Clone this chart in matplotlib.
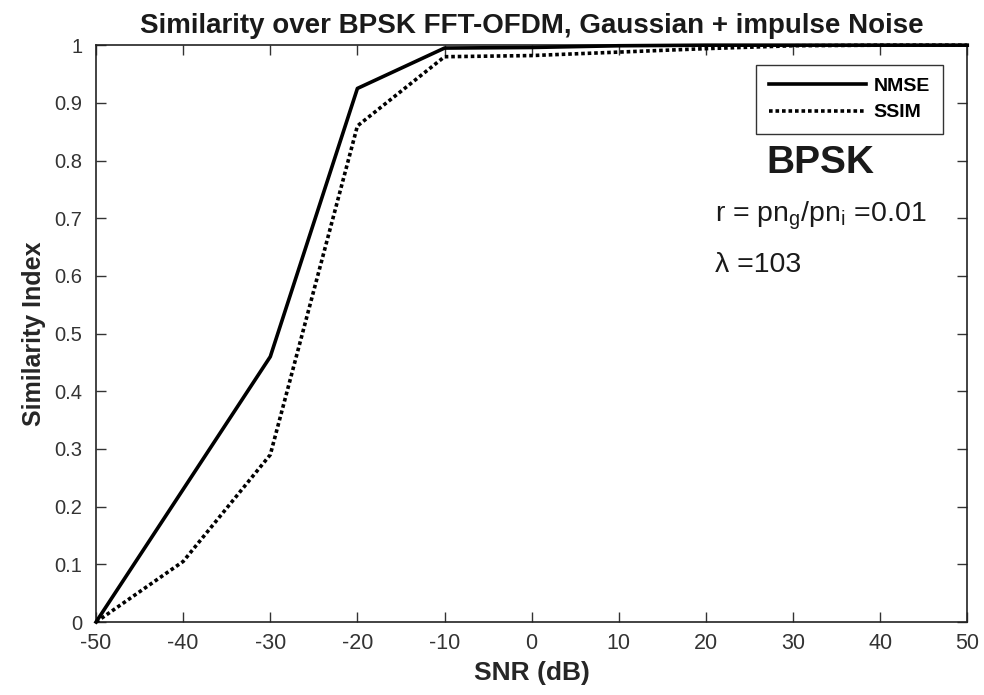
import matplotlib
matplotlib.use("Agg")
import matplotlib.pyplot as plt

snr = [-50, -40, -30, -20, -10, 0, 10, 20, 30, 40, 50]
nmse = [0.0, 0.23, 0.46, 0.925, 0.995, 0.996, 0.999, 1.0, 1.0, 1.0, 1.0]
ssim = [0.0, 0.105, 0.29, 0.86, 0.98, 0.982, 0.988, 0.994, 0.999, 1.0, 1.0]
xticks = [-50, -40, -30, -20, -10, 0, 10, 20, 30, 40, 50]
yticks = [0, 0.1, 0.2, 0.3, 0.4, 0.5, 0.6, 0.7, 0.8, 0.9, 1]
ytick_labels = ["0", "0.1", "0.2", "0.3", "0.4", "0.5", "0.6", "0.7", "0.8", "0.9", "1"]

arial = ["Liberation Sans", "DejaVu Sans"]

fig = plt.figure(figsize=(9.84, 6.95), dpi=100)
ax = fig.add_axes([0.0976, 0.105, 0.8854, 0.830])

ax.plot(snr, nmse, color="black", linewidth=2.6, linestyle="-", label="NMSE", clip_on=False, zorder=3)
ax.plot(snr, ssim, color="black", linewidth=2.6, linestyle=(0, (1.0, 0.8)), label="SSIM", clip_on=False, zorder=3)

ax.set_xlim(-50, 50)
ax.set_ylim(0, 1)
ax.set_xticks(xticks)
ax.set_xticklabels([str(v) for v in xticks], family=arial, fontsize=15.5, color="#333333")
ax.set_yticks(yticks)
ax.set_yticklabels(ytick_labels, family=arial, fontsize=14.5, color="#333333")
ax.tick_params(direction="in", top=True, right=True, length=7, width=1, colors="#333333")
ax.tick_params(axis="x", labelcolor="#333333", pad=8)
ax.tick_params(axis="y", labelcolor="#333333", pad=10)
for s in ax.spines.values():
    s.set_linewidth(1.2)
    s.set_color("#222222")

ax.set_title("Similarity over BPSK FFT-OFDM, Gaussian + impulse Noise",
             family=arial, fontweight="bold", fontsize=20, color="#1a1a1a", pad=9)
ax.set_xlabel("SNR (dB)", family=arial, fontweight="bold", fontsize=19, color="#262626", labelpad=5)
ax.set_ylabel("Similarity Index", family=arial, fontweight="bold", fontsize=18, color="#262626", labelpad=6)

leg = ax.legend(loc="upper right", bbox_to_anchor=(0.972, 0.966), frameon=True, fancybox=False,
                edgecolor="black", handlelength=5.0, handletextpad=0.4, borderpad=0.65,
                labelspacing=0.45, borderaxespad=0.0,
                prop={"family": arial, "weight": "bold", "size": 14})
leg.get_frame().set_linewidth(1.0)

ax.text(33.1, 0.795, "BPSK", family=arial, fontweight="bold", fontsize=28, ha="center", va="center", color="#1a1a1a")
ax.text(21.0, 0.705, r"r = pn$_\mathregular{g}$/pn$_\mathregular{i}$ =0.01", family=arial, fontsize=20.5,
        ha="left", va="center", color="#1a1a1a")
ax.text(21.0, 0.619, "λ =103", family=arial, fontsize=20.5, ha="left", va="center", color="#1a1a1a")

fig.savefig("out.png", dpi=100, facecolor="white")
